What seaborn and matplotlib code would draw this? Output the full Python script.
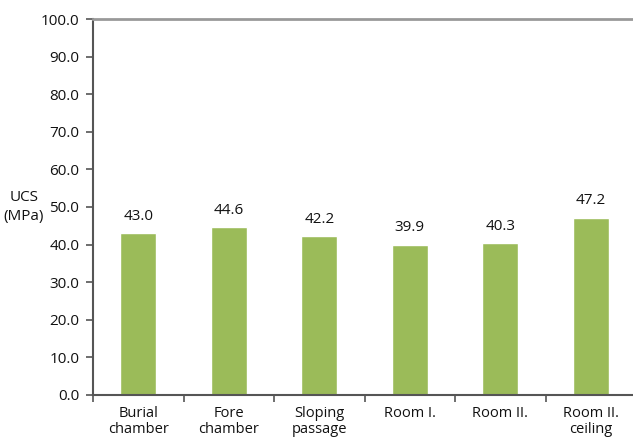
import matplotlib
matplotlib.use("Agg")
import matplotlib.pyplot as plt
import seaborn as sns
import pandas as pd
import numpy as np

# Uniaxial compressive strength per sampling location
locations = ["Burial\nchamber", "Fore\nchamber", "Sloping\npassage",
             "Room I.", "Room II.", "Room II.\nceiling"]
ucs_mpa = [43.0, 44.6, 42.2, 39.9, 40.3, 47.2]
y_ticks = [0, 10, 20, 30, 40, 50, 60, 70, 80, 90, 100]

sns.set_theme(style="white")
plt.rcParams["font.family"] = ["Open Sans", "DejaVu Sans"]

df = pd.DataFrame({"location": locations, "ucs": ucs_mpa})

fig = plt.figure(figsize=(6.33, 4.43), dpi=100)
ax = fig.add_axes([0.147, 0.1084, 0.858, 0.8487])

sns.barplot(data=df, x="location", y="ucs", color="#9BBB59",
            width=0.4, saturation=1, ax=ax)

ax.set_ylim(0, 100)
ax.set_xlim(-0.5, len(locations) - 0.5)
ax.set_yticks(y_ticks)
ax.set_yticklabels([f"{v:.1f}" for v in y_ticks], fontsize=11, color="#111111")

# category labels sit between boundary ticks
ax.set_xticks(range(len(locations)))
ax.set_xticklabels(locations, fontsize=10.5, color="#111111", linespacing=1.1)
ax.tick_params(axis="x", which="major", length=0, pad=8)
ax.set_xticks(np.arange(-0.5, len(locations) - 0.5, 1.0), minor=True)
ax.tick_params(axis="x", which="minor", length=5, width=1.2,
               color="#555555", direction="out", bottom=True)
ax.tick_params(axis="y", which="major", length=5, width=1.2,
               color="#555555", direction="out", left=True, pad=5)

ax.set_xlabel("")
ax.set_ylabel("")
fig.text(24 / 633, 1 - 207 / 443, "UCS\n(MPa)", fontsize=11, color="#111111",
         ha="center", va="center", linespacing=1.3)

for side in ["left", "bottom"]:
    ax.spines[side].set_color("#555555")
    ax.spines[side].set_linewidth(1.5)
ax.spines["top"].set_visible(True)
ax.spines["top"].set_color("#999999")
ax.spines["top"].set_linewidth(2)
ax.spines["right"].set_visible(False)

ax.bar_label(ax.containers[0], fmt="%.1f", padding=7,
             fontsize=11, color="#111111")

fig.savefig("out.png", dpi=100)
